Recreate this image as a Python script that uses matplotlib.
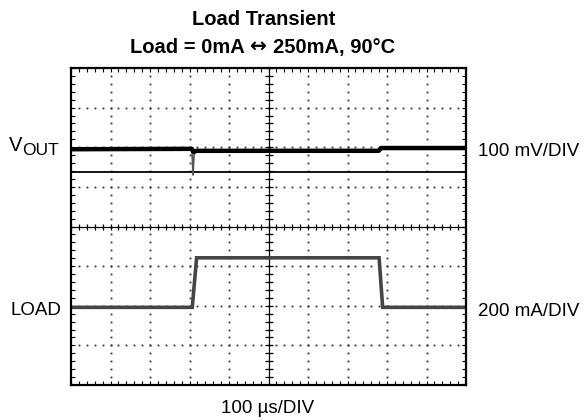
import numpy as np
import matplotlib.pyplot as plt

plt.rcParams['font.family'] = ['Liberation Sans', 'DejaVu Sans']

# scope settings
n_xdiv, n_ydiv = 10, 8
us_per_div = 100
mv_per_div = 100
ma_per_div = 200

# VOUT (mV, relative to the level before the step) vs time (us)
vout_t = [0, 306, 309, 311, 313, 318, 779, 785, 1000]
vout_mv = [0, 1, -65, -22, -6, -4, -4, 3, 3]

# load current (mA) vs time (us)
load_t = [0, 307, 318, 780, 789, 1000]
load_ma = [0, 0, 250, 250, 0, 0]

# where each channel sits on the screen (divisions from bottom)
vout_pos = 5.95
load_pos = 1.96
ref_pos = 5.38

W, H = 584, 420
fig = plt.figure(figsize=(W / 100, H / 100), dpi=100)
ax = fig.add_axes([71 / W, 35 / H, 395 / W, 317 / H])
ax.set_xlim(0, n_xdiv)
ax.set_ylim(0, n_ydiv)

# graticule: dotted grid, centre cross with ticks
xm = np.arange(0, n_xdiv + 0.01, 0.2)
ym = np.arange(0, n_ydiv + 0.01, 0.2)
for xg in range(1, n_xdiv):
    if xg == n_xdiv // 2:
        continue
    ax.plot(np.full(len(ym) - 2, xg), ym[1:-1], ls='none', marker='s', ms=1.3,
            mec='none', color='#333333')
for yg in range(1, n_ydiv):
    if yg == n_ydiv // 2:
        continue
    ax.plot(xm[1:-1], np.full(len(xm) - 2, yg), ls='none', marker='s', ms=1.3,
            mec='none', color='#333333')
ax.axvline(n_xdiv / 2, color='k', lw=0.9)
ax.axhline(n_ydiv / 2, color='k', lw=0.9)
ax.plot(np.full(len(ym), n_xdiv / 2), ym, ls='none', marker='_', ms=6, mew=0.9, color='k')
ax.plot(xm, np.full(len(xm), n_ydiv / 2), ls='none', marker='|', ms=5, mew=0.9, color='k')

# channel reference line
ax.axhline(ref_pos, color='k', lw=1.3)

# traces
tv = np.array(vout_t) / us_per_div
yv = vout_pos + np.array(vout_mv) / mv_per_div
ax.plot(tv, yv, color='#555555', lw=1.2)
yv_thick = vout_pos + np.maximum(np.array(vout_mv), -6) / mv_per_div
ax.plot(tv, yv_thick, color='black', lw=3.2)

tl = np.array(load_t) / us_per_div
yl = load_pos + np.array(load_ma) / ma_per_div
ax.plot(tl, yl, color='#454545', lw=2.6, solid_joinstyle='miter')

ax.set_xticks(np.arange(0, n_xdiv + 1, 1))
ax.set_yticks(np.arange(0, n_ydiv + 1, 1))
ax.set_xticks(xm, minor=True)
ax.set_yticks(ym, minor=True)
ax.tick_params(which='both', direction='in', top=True, right=True, length=3,
               width=0.8, labelbottom=False, labelleft=False)
for s in ax.spines.values():
    s.set_linewidth(1.6)


def px(x, y):
    return x / W, 1 - y / H


fig.text(*px(264, 25), 'Load Transient', ha='center', va='baseline',
         fontsize=14.5, fontweight='bold')
fig.text(*px(245, 53), 'Load = 0mA', ha='right', va='baseline',
         fontsize=14.5, fontweight='bold')
fig.text(*px(257.5, 53), '\u2194', ha='center', va='baseline',
         fontsize=14.5, fontweight='bold', family='DejaVu Sans')
fig.text(*px(273, 53), '250mA, 90\u00b0C', ha='left', va='baseline',
         fontsize=14.5, fontweight='bold')

fig.text(*px(9, 150.7), 'V', ha='left', va='baseline', fontsize=14.5)
fig.text(*px(22.5, 155), 'OUT', ha='left', va='baseline', fontsize=12.5)
fig.text(*px(10, 315), 'LOAD', ha='left', va='baseline', fontsize=13.5)
fig.text(*px(478, 156), '100 mV/DIV', ha='left', va='baseline', fontsize=13.5)
fig.text(*px(478, 316), '200 mA/DIV', ha='left', va='baseline', fontsize=13.5)
fig.text(*px(268, 413), '100 \u00b5s/DIV', ha='center', va='baseline', fontsize=13.5)

fig.savefig('out.png', dpi=100)
